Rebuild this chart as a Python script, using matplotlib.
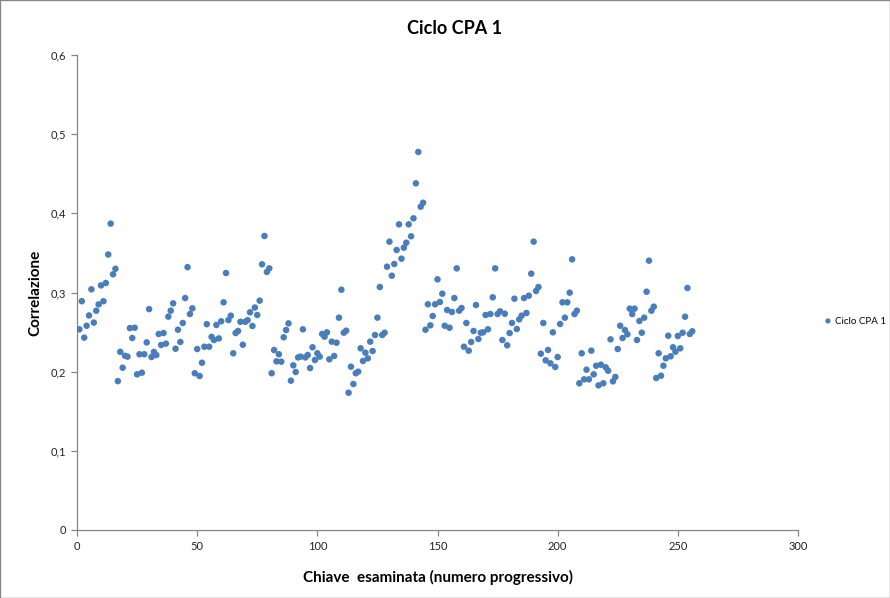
import numpy as np
import matplotlib
matplotlib.use('Agg')
import matplotlib.pyplot as plt
from matplotlib.patches import Rectangle
from matplotlib.ticker import FuncFormatter

plt.rcParams['font.family'] = ['Lato', 'DejaVu Sans']

# Correlation value for each examined key (1..256)
correlazione = [
    0.2535, 0.289, 0.243, 0.258, 0.271, 0.304, 0.262, 0.277, 0.285, 0.309,
    0.289, 0.312, 0.348, 0.387, 0.323, 0.330, 0.188, 0.225, 0.205, 0.220,
    0.219, 0.255, 0.2425, 0.2555, 0.1966, 0.222, 0.1987, 0.222, 0.237, 0.279,
    0.2185, 0.225, 0.221, 0.2476, 0.2337, 0.2488, 0.2354, 0.2695, 0.277, 0.2863,
    0.229, 0.253, 0.2375, 0.2615, 0.293, 0.332, 0.2728, 0.280, 0.198, 0.2286,
    0.1945, 0.2113, 0.2315, 0.260, 0.2315, 0.244, 0.240, 0.259, 0.242, 0.2636,
    0.2876, 0.3246, 0.2652, 0.2707, 0.2232, 0.2488, 0.2514, 0.263, 0.234, 0.263,
    0.265, 0.275, 0.2577, 0.281, 0.2716, 0.2897, 0.3356, 0.3714, 0.326, 0.3305,
    0.198, 0.2274, 0.213, 0.222, 0.2126, 0.2434, 0.2526, 0.261, 0.1886, 0.208,
    0.1996, 0.218, 0.219, 0.2535, 0.218, 0.221, 0.2046, 0.2308, 0.2147, 0.2232,
    0.219, 0.2476, 0.2442, 0.2497, 0.2156, 0.2379, 0.2198, 0.2366, 0.2682, 0.3035,
    0.2492, 0.2518, 0.1734, 0.2063, 0.1844, 0.198, 0.200, 0.2295, 0.2135, 0.224,
    0.2168, 0.2379, 0.2261, 0.2463, 0.2682, 0.3069, 0.2463, 0.2492, 0.3326, 0.3642,
    0.3212, 0.336, 0.3537, 0.3861, 0.3427, 0.3566, 0.3629, 0.3861, 0.371, 0.3937,
    0.4379, 0.4775, 0.4084, 0.4134, 0.253, 0.2851, 0.2585, 0.2703, 0.2851, 0.3166,
    0.288, 0.2985, 0.258, 0.2779, 0.2555, 0.2754, 0.293, 0.3305, 0.277, 0.2804,
    0.2315, 0.2615, 0.2265, 0.2375, 0.2514, 0.2842, 0.2413, 0.2492, 0.2497, 0.2716,
    0.2535, 0.2728, 0.2939, 0.3305, 0.2728, 0.2762, 0.240, 0.2732, 0.2333, 0.2488,
    0.2615, 0.2922, 0.2539, 0.2661, 0.2707, 0.293, 0.2741, 0.296, 0.3238, 0.3642,
    0.3019, 0.3069, 0.2227, 0.2615, 0.2143, 0.2274, 0.2105, 0.2497, 0.2059, 0.2185,
    0.2602, 0.2876, 0.2682, 0.2876, 0.2998, 0.3419, 0.2728, 0.277, 0.1853, 0.2232,
    0.1903, 0.2025, 0.1903, 0.2265, 0.1966, 0.2075, 0.1827, 0.2088, 0.1853, 0.2055,
    0.2012, 0.2408, 0.1878, 0.1933, 0.2286, 0.258, 0.2425, 0.2526, 0.2472, 0.2796,
    0.2728, 0.2796, 0.240, 0.264, 0.2492, 0.2682, 0.301, 0.3402, 0.277, 0.2821,
    0.192, 0.2232, 0.1949, 0.2075, 0.2168, 0.2454, 0.2194, 0.2308, 0.2252, 0.245,
    0.2295, 0.2492, 0.2694, 0.3057, 0.2476, 0.251,
]
chiave = np.arange(1, len(correlazione) + 1)

x_ticks = [0, 50, 100, 150, 200, 250, 300]
y_ticks = [0, 0.1, 0.2, 0.3, 0.4, 0.5, 0.6]

fig = plt.figure(figsize=(8.9, 5.98), dpi=100)
ax = fig.add_axes([77 / 890, 1 - 530 / 598, 721 / 890, 475 / 598])

pts = ax.scatter(chiave, correlazione, s=22, color='#4A7EBB', edgecolors='none',
                 label='Ciclo CPA 1', zorder=3)

ax.set_xlim(0, 300)
ax.set_ylim(0, 0.6)
ax.set_xticks(x_ticks)
ax.set_yticks(y_ticks)
ax.yaxis.set_major_formatter(FuncFormatter(lambda v, p: '0' if v == 0 else f'{v:.1f}'.replace('.', ',')))

for side in ['top', 'right']:
    ax.spines[side].set_visible(False)
for side in ['left', 'bottom']:
    ax.spines[side].set_color('#868686')
    ax.spines[side].set_linewidth(0.9)
ax.tick_params(direction='out', length=4, width=0.9, color='#868686',
               labelsize=8, labelcolor='#222222', pad=4)

fig.text(455 / 890, 1 - 28 / 598, 'Ciclo CPA 1', ha='center', va='center',
         fontsize=13, fontweight='bold', color='black')
fig.text(438 / 890, 1 - 577 / 598, 'Chiave  esaminata (numero progressivo)',
         ha='center', va='center', fontsize=11, fontweight='bold')
fig.text(35 / 890, 1 - 293 / 598, 'Correlazione', ha='center', va='center',
         rotation=90, fontsize=11, fontweight='bold')

fig.legend(handles=[pts], loc='center left', bbox_to_anchor=(824 / 890, 1 - 321 / 598),
           frameon=False, fontsize=7, handlelength=0.8, handletextpad=0.3,
           markerscale=0.8, borderaxespad=0, borderpad=0)

# thin chart-area border
fig.patches.append(Rectangle((0.0005, 0.0008), 0.999, 0.9984, transform=fig.transFigure,
                             fill=False, edgecolor='#868686', linewidth=1))

plt.savefig('out.png', dpi=100)
